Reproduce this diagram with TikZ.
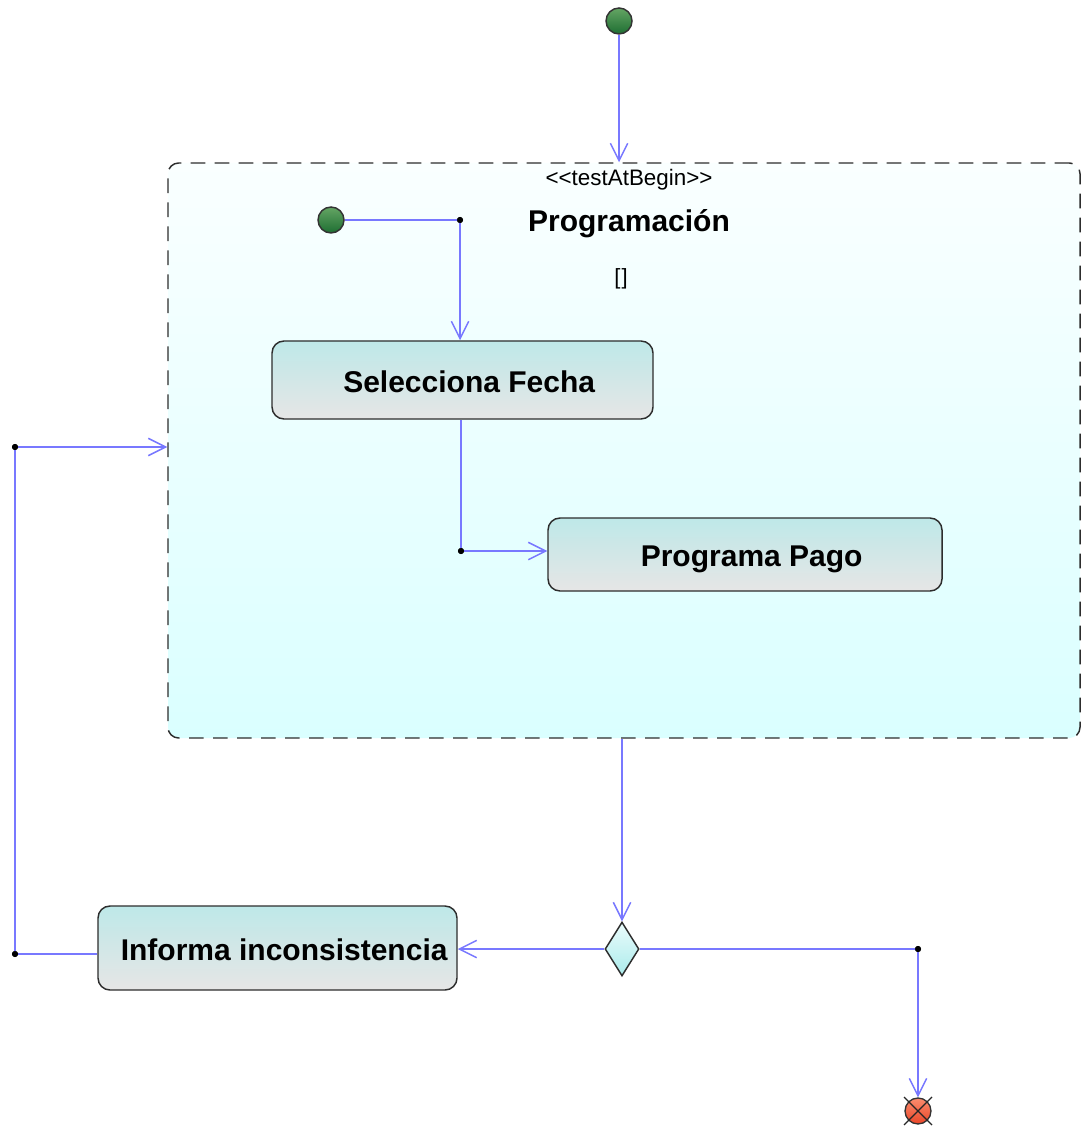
\documentclass[tikz,border=0pt]{standalone}
\usepackage{fontspec}
\setmainfont{Liberation Sans}
\usetikzlibrary{arrows.meta,shapes.geometric}
\definecolor{flow}{RGB}{120,120,255}
\definecolor{edge}{RGB}{45,45,45}
\definecolor{boxtop}{RGB}{190,232,232}
\definecolor{boxbot}{RGB}{230,230,230}
\definecolor{regtop}{RGB}{250,255,255}
\definecolor{regbot}{RGB}{218,255,255}
\definecolor{dectop}{RGB}{235,252,252}
\definecolor{decbot}{RGB}{170,235,235}
\definecolor{initop}{RGB}{100,165,100}
\definecolor{inibot}{RGB}{30,110,50}
\definecolor{fintop}{RGB}{250,140,110}
\definecolor{finbot}{RGB}{235,70,40}
\tikzset{
  flowline/.style={draw=flow, line width=1.1pt},
  flowarrow/.style={flowline, -{Straight Barb[length=13pt,width=13pt,line width=1.1pt]}},
  actbox/.style={draw=edge, line width=1.1pt, rounded corners=9pt, top color=boxtop, bottom color=boxbot,
    font=\fontsize{22.5}{26}\selectfont\bfseries, inner sep=0pt, text height=18.4pt, text depth=0pt,
    execute at begin node={\hspace*{10pt}}},
  region/.style={draw=edge, line width=1.1pt, dash pattern=on 11pt off 7pt, rounded corners=8pt,
    top color=regtop, bottom color=regbot, inner sep=0pt},
  initial/.style={circle, draw=black!80, line width=1.1pt, top color=initop, bottom color=inibot,
    minimum size=19.5pt, inner sep=0pt},
  final/.style={circle, draw=black!80, line width=1pt, top color=fintop, bottom color=finbot,
    minimum size=19.5pt, inner sep=0pt},
  decision/.style={diamond, draw=edge, line width=1.1pt, top color=dectop, bottom color=decbot,
    minimum width=25.5pt, minimum height=40.5pt, inner sep=0pt},
  junction/.style={circle, fill=black, minimum size=4.5pt, inner sep=0pt},
}
\begin{document}
\begin{tikzpicture}[x=0.75pt,y=-0.75pt]
  \useasboundingbox (0,0) rectangle (1082,1126);

  % loop region with its labels
  \node[region, minimum width=684pt, minimum height=431.25pt] (loop) at (624,450.5) {};
  \node[font=\fontsize{16.8}{19}\selectfont] (stereo) at (629,180)
    {\textless\kern0pt\textless testAtBegin\textgreater\kern0pt\textgreater};
  \node[font=\fontsize{22.5}{26}\selectfont\bfseries] (title) at (629,224) {Programación};
  \node[font=\fontsize{16.5}{20}\selectfont] (guard) at (621,279) {[\kern0.8pt]};

  % start nodes
  \node[initial] (start) at (619,21) {};
  \node[initial] (innerstart) at (331,220) {};

  % actions
  \node[actbox, minimum width=285.75pt, minimum height=58.5pt] (sel) at (462.5,380) {Selecciona Fecha};
  \node[actbox, minimum width=295.5pt, minimum height=54.75pt] (pago) at (745,554.5) {Programa Pago};
  \node[actbox, minimum width=269.25pt, minimum height=63pt] (info) at (277.5,948) {Informa inconsistencia};

  % decision and end
  \node[decision] (dec) at (622,949) {};
  \node[final] (fin) at (918,1111) {};
  \draw[line width=1pt, black!85] (fin.center) ++(-10.5pt,-10.5pt) -- ++(21pt,21pt)
        (fin.center) ++(-10.5pt,10.5pt) -- ++(21pt,-21pt);

  % bend points
  \node[junction] (j1) at (460,220) {};
  \node[junction] (j2) at (461,551) {};
  \node[junction] (j3) at (15,954) {};
  \node[junction] (j4) at (15,447) {};
  \node[junction] (j5) at (918,949) {};

  % flows
  \draw[flowarrow] (start.south) -- (start |- loop.north);
  \draw[flowline] (innerstart.east) -- (j1.center);
  \draw[flowarrow] (j1.center) -- (j1 |- sel.north);
  \draw[flowline] (sel.south -| j2) -- (j2.center);
  \draw[flowarrow] (j2.center) -- (j2 -| pago.west);
  \draw[flowarrow] (loop.south -| dec) -- (dec.north);
  \draw[flowarrow] (dec.west) -- (dec.west -| info.east);
  \draw[flowline] (info.west |- j3) -- (j3.center) -- (j4.center);
  \draw[flowarrow] (j4.center) -- (j4 -| loop.west);
  \draw[flowline] (dec.east) -- (j5.center);
  \draw[flowarrow] (j5.center) -- (fin.north);

  % dots on top of the lines
  \foreach \j in {j1,j2,j3,j4,j5} \fill (\j) circle (2.3pt);
\end{tikzpicture}
\end{document}
